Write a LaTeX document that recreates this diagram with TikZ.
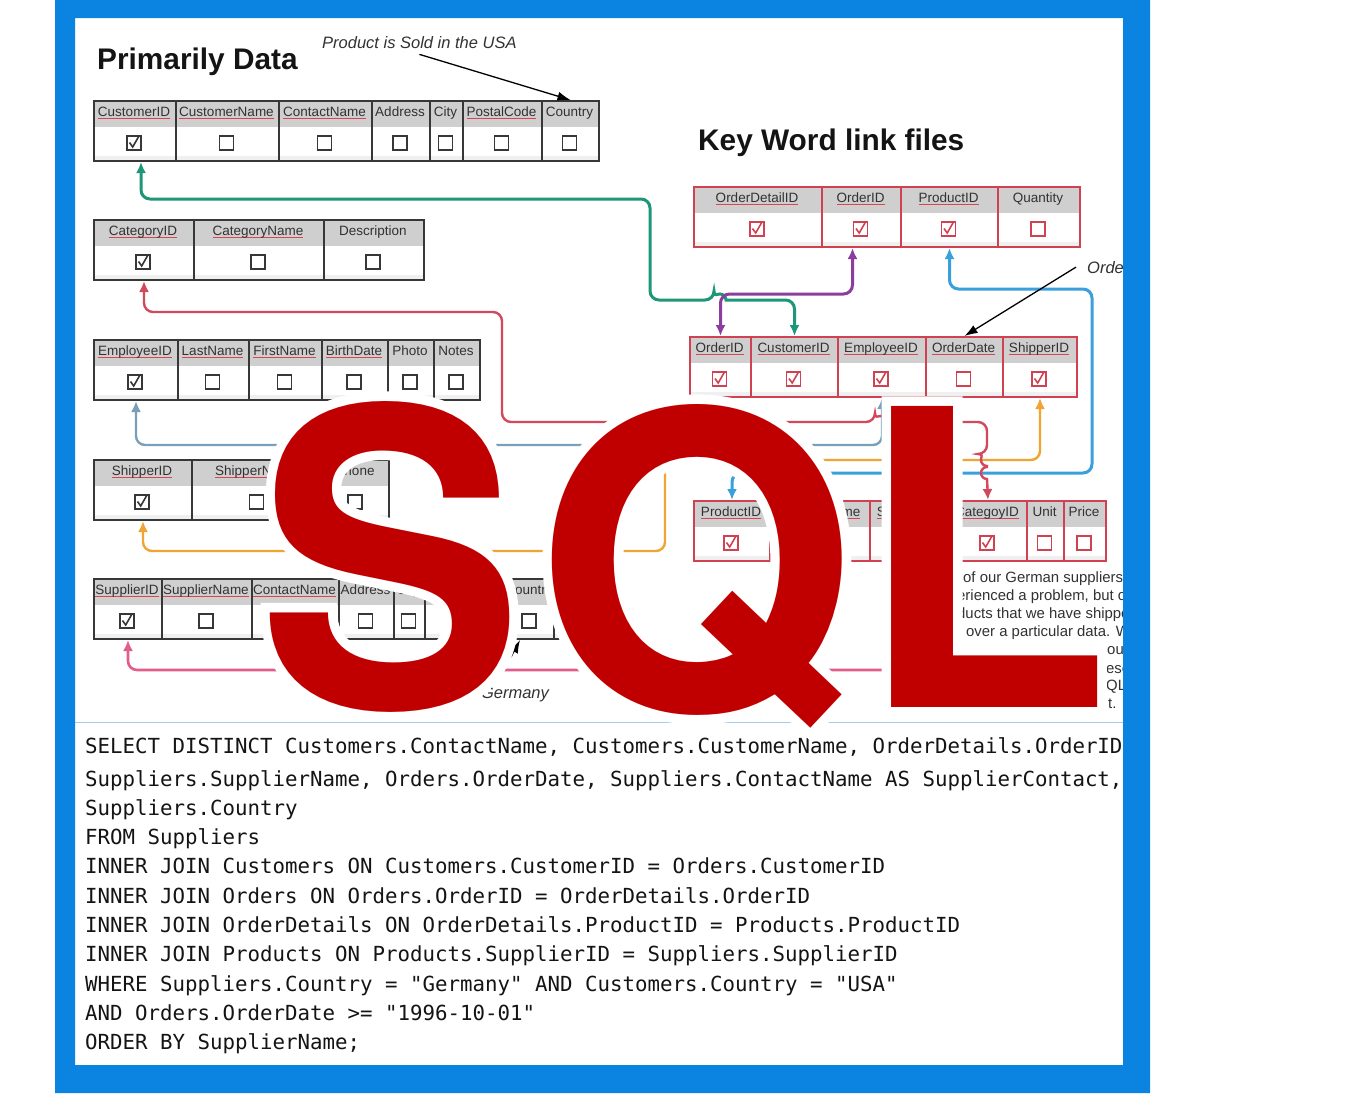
\documentclass[tikz,border=0pt]{standalone}
\usepackage{fontspec}
\setmainfont{Liberation Sans}
\setmonofont{DejaVu Sans Mono}
\newfontfamily\sqlfont{TeX Gyre Heros}
\newfontfamily\halofont{TeX Gyre Heros}[FakeBold=4.6]
\usetikzlibrary{arrows.meta,positioning,calc}

\definecolor{frameblue}{RGB}{11,131,224}
\definecolor{sqlred}{RGB}{192,0,0}
\definecolor{hdrgray}{RGB}{207,207,207}
\definecolor{tdark}{RGB}{55,55,55}
\definecolor{tred}{RGB}{208,66,82}
\definecolor{spell}{RGB}{214,70,80}
\definecolor{lgreen}{RGB}{30,150,120}
\definecolor{lpurple}{RGB}{140,62,160}
\definecolor{lblue}{RGB}{58,160,220}
\definecolor{lred}{RGB}{210,72,92}
\definecolor{lsteel}{RGB}{122,160,185}
\definecolor{lorange}{RGB}{240,165,50}
\definecolor{lpink}{RGB}{226,92,140}
\definecolor{sepblue}{RGB}{160,205,240}
\definecolor{txtgray}{RGB}{50,50,50}

\newsavebox\ulbox
\newcommand\redul[1]{\sbox\ulbox{#1}\rlap{\raisebox{-2.6pt}{\textcolor{spell}{\rule{\wd\ulbox}{1.2pt}}}}\usebox\ulbox}

\newcommand\dbtable[4]{%
  \foreach \xl/\xr/\lab/\ul/\ck [count=\i] in {#4} {
    \node[tcol=#3, minimum width={\xr-\xl}, anchor=north west] (#1\i) at (\xl,#2) {};
    \node[hlab, anchor=base] (#1t\i) at ({(\xl+\xr)/2},{#2+16.5}) {\if\ul u\redul{\lab}\else\lab\fi};
    \if\ck c\node[cbox=#3, ticked=#3] (#1k\i) at ({(\xl+\xr)/2},{#2+43}) {};\fi
    \if\ck e\node[cbox=#3] (#1k\i) at ({(\xl+\xr)/2},{#2+43}) {};\fi
  }%
}

\begin{document}
\begin{tikzpicture}[
  x=1pt, y=-1pt,
  tcol/.style={draw=#1, line width=2pt, minimum height=60, inner sep=0,
    path picture={
      \fill[hdrgray] (path picture bounding box.north west) rectangle ([yshift=-26pt]path picture bounding box.north east);
      \fill[black!6] ([yshift=5pt]path picture bounding box.south west) rectangle (path picture bounding box.south east);
    }},
  hlab/.style={font=\fontsize{13.5}{14}\selectfont, text=txtgray, inner sep=0},
  cbox/.style={draw=#1, line width=1.8pt, minimum size=14, inner sep=0, fill=white},
  ticked/.style={path picture={
      \draw[#1, line width=1.6pt] ([shift={(-4.5pt,0.5pt)}]path picture bounding box.center) -- ++(3.2pt,-4.5pt) -- ++(6pt,10.5pt);
    }},
  link/.style={line width=2.4pt, rounded corners=9pt, arrows={Latex[length=11pt,width=10pt]-Latex[length=11pt,width=10pt]}},
  notearrow/.style={-{Latex[length=13pt,width=9pt]}, line width=1.3pt, black},
  note/.style={font=\itshape\fontsize{16.5}{18}\selectfont, text=txtgray, inner sep=0},
  heading/.style={font=\bfseries\fontsize{29.8}{32}\selectfont, text=black!92, inner sep=0},
  para/.style={font=\fontsize{14.9}{18}\selectfont, text=txtgray, inner sep=0, anchor=base west},
  sqlcode/.style={font=\ttfamily\fontsize{20.76}{24}\selectfont, text=black!92, inner sep=0, anchor=base west},
  bigletter/.style={font=\sqlfont\bfseries\fontsize{413}{413}\selectfont, text=sqlred, inner sep=0, anchor=base west},
  halo/.style={font=\halofont\bfseries\fontsize{413}{413}\selectfont, text=white, inner sep=0, anchor=base west}
]
\useasboundingbox (0,0) rectangle (1370,1093);
\fill[white] (0,0) rectangle (1370,1093);

\node[heading, anchor=base west] (prim) at (97,69) {Primarily Data};
\node[heading, anchor=base west] (keyw) at (698,150) {Key Word link files};
\node[note, anchor=base west] (usa) at (322,48) {Product is Sold in the USA};
\node[note, anchor=base west] (orde) at (1087,273) {Orde};
\node[note, anchor=base west] (germ) at (468,698) {s Germany};

\dbtable{cu}{100}{tdark}{93/175/CustomerID/u/c, 175/278/CustomerName/u/e, 278/371/ContactName/u/e, 371/429/Address/n/e, 429/462/City/n/e, 462/541/PostalCode/u/e, 541/598/Country/n/e}
\dbtable{ca}{219}{tdark}{93/193/CategoryID/u/c, 193/323/CategoryName/u/e, 323/423/Description/n/e}
\dbtable{em}{339}{tdark}{93/177/EmployeeID/u/c, 177/248/LastName/u/e, 248/321/FirstName/u/e, 321/387/BirthDate/u/e, 387/433/Photo/n/e, 433/479/Notes/n/e}
\dbtable{sh}{459}{tdark}{93/191/ShipperID/u/c, 191/322/ShipperName/u/e, 322/388/Phone/n/e}
\dbtable{su}{578}{tdark}{93/161/SupplierID/u/c, 161/251/SupplierName/u/e, 251/338/ContactName/u/e, 338/393/Address/n/e, 393/424/City/n/e, 424/505/PostalCode/u/e, 505/553/Country/n/e, 553/612/{}/n/n}
\dbtable{od}{186}{tred}{693/821/OrderDetailID/u/c, 821/900/OrderID/u/c, 900/997/ProductID/u/c, 997/1079/Quantity/n/e}
\dbtable{o}{336}{tred}{689/750/OrderID/u/c, 750/837/CustomerID/u/c, 837/925/EmployeeID/u/c, 925/1002/OrderDate/u/e, 1002/1076/ShipperID/u/c}
\dbtable{p}{500}{tred}{693/769/ProductID/u/c, 769/869/ProductName/u/e, 869/948/SupplierID/u/c, 948/1026/CategoyID/u/c, 1026/1063/Unit/n/e, 1063/1105/Price/n/e}

\draw[link, lgreen, line width=3pt] ([xshift=6pt]cu1.south) -- ++(0,37) -| (650,300) -- (714,300) [sharp corners] arc (180:360:6) -- (727,300) [rounded corners=9pt] -| (o2.north);
\draw[link, lpurple, line width=3pt] ([xshift=-9pt]od2.south) -- ++(0,46) -| (o1.north);
\draw[link, lblue, line width=3pt] (od3.south) -- ++(0,41) -| (1092,473) -| (p1.north);
\draw[link, lsteel] (em1.south) -- ++(0,44) -| (o3.south);
\draw[link, lorange] (sh1.south) -- ++(0,30) -| (665,460) -| (o5.south);
\draw[link, lpink, line width=2.6pt] (su1.south) -- ++(0,30) -| (p3.south);
\draw[link, lred] (ca1.south) -- ++(0,31) -| (502,422) -- (875,422) [sharp corners] arc (180:360:6) -- (888,422) [rounded corners=9pt] -| (987,454) [sharp corners] arc (270:90:6) -- (987,467) arc (270:90:6) -- (p4.north);

\coordinate (gtail) at (511,657);
\draw[notearrow] ([yshift=-6pt]usa.south) -- (cu7.north);
\draw[notearrow] ([xshift=-11pt]orde.west) -- (o4.north);
\draw[notearrow] (gtail) -- ([xshift=-10pt]su7.south);

\foreach \px/\py/\ptext [count=\i] in {963/582/{of our German suppliers}, 957/600/{erienced a problem, but o}, 957/618/{ducts that we have shippe}, 966/636/{over a particular data. W}, 1107/654/ou, 1106/673/ese, 1106/690/QL, 1108/708/t.}
  \node[para] (pl\i) at (\px,\py) {\ptext};

\draw[sepblue, line width=1pt] (75,722) -- (1123,722);

\node[sqlcode] (code1) at (85,753) {SELECT DISTINCT Customers.ContactName, Customers.CustomerName, OrderDetails.OrderID};
\foreach \qline [count=\i from 2] in {
  {Suppliers.SupplierName, Orders.OrderDate, Suppliers.ContactName AS SupplierContact,},
  {Suppliers.Country},
  {FROM Suppliers},
  {INNER JOIN Customers ON Customers.CustomerID = Orders.CustomerID},
  {INNER JOIN Orders ON Orders.OrderID = OrderDetails.OrderID},
  {INNER JOIN OrderDetails ON OrderDetails.ProductID = Products.ProductID},
  {INNER JOIN Products ON Products.SupplierID = Suppliers.SupplierID},
  {WHERE Suppliers.Country = "Germany" AND Customers.Country = "USA"},
  {AND Orders.OrderDate >= "1996-10-01"},
  {ORDER BY SupplierName;}}
  \node[sqlcode] (code\i) at (85,{786+29.3*(\i-2)}) {\qline};

\node[halo] (halo1) at (257,707) {\scalebox{0.965}[1]{S}};
\node[halo] (halo2) at (534,710) {Q};
\node[halo] (halo3) at (858,707) {L};
\node[bigletter] (sql1) at (257,707) {\scalebox{0.965}[1]{S}};
\node[bigletter] (sql2) at (534,710) {Q};
\node[bigletter] (sql3) at (858,707) {L};

\fill[frameblue, even odd rule] (55,0) rectangle (1150,1093) (75,18) rectangle (1123,1065);
\end{tikzpicture}
\end{document}
